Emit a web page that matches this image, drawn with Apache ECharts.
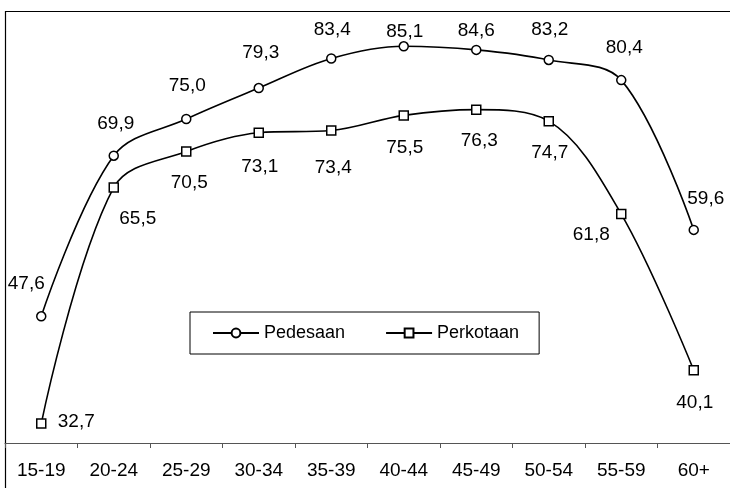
<!DOCTYPE html>
<html>
<head>
<meta charset="utf-8">
<script src="https://cdn.jsdelivr.net/npm/echarts@6/dist/echarts.min.js"></script>
<style>html,body{margin:0;padding:0;background:#fff;}#c{width:730px;height:488px;}</style>
</head>
<body>
<div id="c"></div>
<script>
var categories = ['15-19','20-24','25-29','30-34','35-39','40-44','45-49','50-54','55-59','60+'];
var pedesaan = [47.6, 69.9, 75.0, 79.3, 83.4, 85.1, 84.6, 83.2, 80.4, 59.6];
var perkotaan = [32.7, 65.5, 70.5, 73.1, 73.4, 75.5, 76.3, 74.7, 61.8, 40.1];
var seriesNames = ['Pedesaan', 'Perkotaan'];

var FONT = '"Liberation Sans", Arial, sans-serif';
var pedOffsets = [[-15,-33],[2,-32],[1,-33],[2,-35],[1,-29],[1,-15],[0,-19],[1,-30],[3,-32],[12,-31]];
var perOffsets = [[35,-2],[24,31],[3,31],[1,34],[2,37],[1,32],[3,31],[1,32],[-30,21],[1,32]];

function fmt(v){ return v.toFixed(1).replace('.', ','); }
function build(values, offsets){
  return values.map(function(v, i){
    return { value: v, label: { offset: offsets[i] } };
  });
}

var chart = echarts.init(document.getElementById('c'), null, {renderer: 'canvas'});
chart.setOption({
  animation: false,
  backgroundColor: '#fff',
  textStyle: { fontFamily: FONT, color: '#000' },
  graphic: [{
    type: 'rect', silent: true, z: 0,
    shape: { x: 5.5, y: 11.5, width: 760, height: 520 },
    style: { fill: 'none', stroke: '#000', lineWidth: 1.2 }
  }],
  grid: { left: 5, top: 11, width: 729, height: 432, containLabel: false },
  legend: {
    left: 190, top: 312,
    padding: [12, 20, 12, 22],
    borderColor: '#000', borderWidth: 1,
    itemWidth: 46, itemHeight: 11, itemGap: 40,
    textStyle: { fontFamily: FONT, fontSize: 18, color: '#000' },
    data: seriesNames
  },
  xAxis: {
    type: 'category',
    data: categories,
    boundaryGap: true,
    axisLine: { lineStyle: { color: '#555', width: 1 } },
    axisTick: { show: true, length: 5, lineStyle: { color: '#555' } },
    axisLabel: { fontFamily: FONT, fontSize: 19, color: '#000', margin: 18 },
    splitLine: { show: false }
  },
  yAxis: {
    type: 'value', min: 30, max: 90, interval: 10,
    show: false,
    splitLine: { show: false }
  },
  series: [
    {
      name: seriesNames[0], type: 'line', smooth: 0.35,
      data: build(pedesaan, pedOffsets),
      symbol: 'circle', symbolSize: 9,
      lineStyle: { color: '#000', width: 1.6 },
      itemStyle: { color: '#fff', borderColor: '#000', borderWidth: 1.5 },
      label: { show: true, position: 'inside', formatter: function(p){ return fmt(p.value); },
               fontFamily: FONT, fontSize: 19, color: '#000' },
      z: 3
    },
    {
      name: seriesNames[1], type: 'line', smooth: 0.35,
      data: build(perkotaan, perOffsets),
      symbol: 'rect', symbolSize: 9,
      lineStyle: { color: '#000', width: 1.6 },
      itemStyle: { color: '#fff', borderColor: '#000', borderWidth: 1.5 },
      label: { show: true, position: 'inside', formatter: function(p){ return fmt(p.value); },
               fontFamily: FONT, fontSize: 19, color: '#000' },
      z: 3
    }
  ]
});
</script>
</body>
</html>
